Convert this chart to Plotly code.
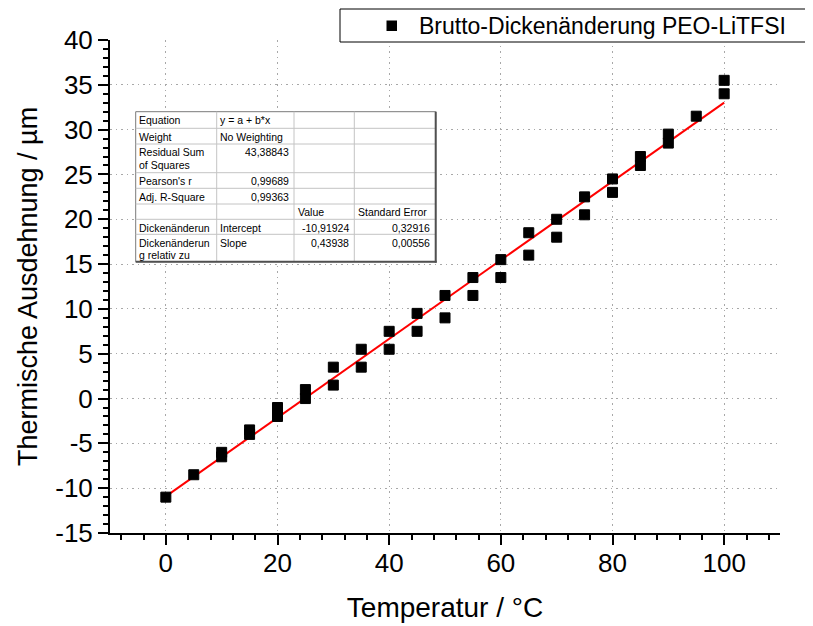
import plotly.graph_objects as go

# ---------------- data ----------------
temperature = [0, 5, 10, 10, 15, 15, 20, 20, 25, 25, 30, 30, 35, 35, 40, 40,
               45, 45, 50, 50, 55, 55, 60, 60, 65, 65, 70, 70, 75, 75, 80, 80,
               85, 85, 90, 90, 95, 100, 100]
expansion = [-11, -8.5, -6, -6.5, -3.5, -4, -1, -2, 1, 0, 3.5, 1.5, 5.5, 3.5,
             7.5, 5.5, 9.5, 7.5, 11.5, 9, 13.5, 11.5, 15.5, 13.5, 18.5, 16,
             20, 18, 22.5, 20.5, 24.5, 23, 27, 26, 29.5, 28.5, 31.5, 35.5, 34]

fit_intercept = -10.91924
fit_slope = 0.43938
fit_x = [0, 100]
fit_y = [fit_intercept + fit_slope * t for t in fit_x]

x_tickvals = [0, 20, 40, 60, 80, 100]
x_ticktext = ["0", "20", "40", "60", "80", "100"]
y_tickvals = [-15, -10, -5, 0, 5, 10, 15, 20, 25, 30, 35, 40]
y_ticktext = ["-15", "-10", "-5", "0", "5", "10", "15", "20", "25", "30", "35", "40"]

series_name = "Brutto-Dickenänderung PEO-LiTFSI"
x_title = "Temperatur / °C"
y_title = "Thermische Ausdehnung / µm"

table_rows = [
    ["Equation", "y = a + b*x", "", ""],
    ["Weight", "No Weighting", "", ""],
    ["Residual Sum|of Squares", "43,38843", "", ""],
    ["Pearson's r", "0,99689", "", ""],
    ["Adj. R-Square", "0,99363", "", ""],
    ["", "", "Value", "Standard Error"],
    ["Dickenänderun", "Intercept", "-10,91924", "0,32916"],
    ["Dickenänderun|g relativ zu", "Slope", "0,43938", "0,00556"],
]

# ---------------- layout geometry ----------------
# the page body has an 8px margin, so the figure is drawn 8px right/down
W, H = 813, 626
BODY = 8
PLOT_L, PLOT_R, PLOT_T, PLOT_B = 110, 780, 40, 533   # target page pixels
ML, MT = PLOT_L - BODY, PLOT_T - BODY
PW, PH = PLOT_R - PLOT_L, PLOT_B - PLOT_T
MR, MB = W - ML - PW, H - MT - PH
FONT = "Arial, Liberation Sans, sans-serif"


def px(xp):
    return (xp - PLOT_L) / PW


def py(yp):
    return 1 - (yp - PLOT_T) / PH


fig = go.Figure()

fig.add_trace(go.Scatter(
    x=fit_x, y=fit_y, mode="lines",
    line=dict(color="#ff0000", width=2), showlegend=False, hoverinfo="skip"))

fig.add_trace(go.Scatter(
    x=temperature, y=expansion, mode="markers", name=series_name,
    showlegend=False,
    marker=dict(symbol="square", size=10, color="black",
                line=dict(color="black", width=1))))

shapes = []
annotations = []

# ---------------- legend (drawn manually so it does not push the margins) ----
shapes.append(dict(type="rect", xref="paper", yref="paper",
                   x0=px(340), x1=px(840), y0=py(9), y1=py(42),
                   fillcolor="white", line=dict(color="black", width=1)))
shapes.append(dict(type="rect", xref="paper", yref="paper",
                   x0=px(386.5), x1=px(397), y0=py(20.5), y1=py(31),
                   fillcolor="black", line=dict(color="black", width=0)))
annotations.append(dict(xref="paper", yref="paper", x=px(418), y=py(26),
                        xanchor="left", yanchor="middle", showarrow=False,
                        text=series_name, borderpad=0,
                        font=dict(family=FONT, size=23, color="black")))

# ---------------- table ----------------
row_b = [111.7, 128.3, 144, 172.7, 188.3, 204, 219.3, 234.3, 261.7]
col_b = [135.7, 216.7, 294, 354.3, 435.7]

shapes.append(dict(type="rect", xref="paper", yref="paper",
                   x0=px(col_b[0]), x1=px(col_b[-1]), y0=py(row_b[0]), y1=py(row_b[-1]),
                   fillcolor="white", line=dict(color="#7a7a7a", width=1), layer="above"))
for yb in row_b[1:-1]:
    shapes.append(dict(type="line", xref="paper", yref="paper",
                       x0=px(col_b[0]), x1=px(col_b[-1]), y0=py(yb), y1=py(yb),
                       line=dict(color="#c4c4c4", width=1), layer="above"))
for xb in col_b[1:-1]:
    shapes.append(dict(type="line", xref="paper", yref="paper",
                       x0=px(xb), x1=px(xb), y0=py(row_b[0]), y1=py(row_b[-1]),
                       line=dict(color="#c4c4c4", width=1), layer="above"))
shapes.append(dict(type="line", xref="paper", yref="paper",
                   x0=px(col_b[-1]), x1=px(col_b[-1]), y0=py(row_b[0]), y1=py(row_b[-1] + 1),
                   line=dict(color="#505050", width=2), layer="above"))
shapes.append(dict(type="line", xref="paper", yref="paper",
                   x0=px(col_b[0]), x1=px(col_b[-1] + 1), y0=py(row_b[-1]), y1=py(row_b[-1]),
                   line=dict(color="#505050", width=2), layer="above"))


def is_number(s):
    try:
        float(s.replace(",", "."))
        return True
    except ValueError:
        return False


for ri, row in enumerate(table_rows):
    top = row_b[ri]
    for ci, cell in enumerate(row):
        if not cell:
            continue
        right = is_number(cell)
        for li, line in enumerate(cell.split("|")):
            annotations.append(dict(
                xref="paper", yref="paper",
                x=px(col_b[ci + 1] - 4.5) if right else px(col_b[ci] + 2.5),
                xanchor="right" if right else "left",
                y=py(top + 8.3 + 12.3 * li), yanchor="middle",
                text=line, showarrow=False,
                font=dict(family=FONT, size=10.5, color="black"),
                borderpad=0))

axis_common = dict(
    showline=True, linecolor="black", linewidth=2,
    ticks="outside", ticklen=10, tickwidth=2, tickcolor="black",
    tickfont=dict(family=FONT, size=26, color="black"),
    showgrid=True, gridcolor="#a8a8a8", gridwidth=1, griddash="1.5px,4px",
    zeroline=False, mirror=False, automargin=False,
)

fig.update_layout(
    width=W, height=H,
    margin=dict(l=ML, r=MR, t=MT, b=MB, autoexpand=False),
    paper_bgcolor="white", plot_bgcolor="white",
    font=dict(family=FONT, color="black"),
    shapes=shapes, annotations=annotations,
    showlegend=False,
    xaxis=dict(range=[-10, 110], tickmode="array",
               tickvals=x_tickvals, ticktext=x_ticktext,
               ticklabelstandoff=-4,
               minor=dict(tick0=0, dtick=4, ticks="outside", ticklen=5,
                          tickwidth=2, tickcolor="black", showgrid=False),
               title=dict(text=x_title, font=dict(family=FONT, size=28, color="black"),
                          standoff=20),
               **axis_common),
    yaxis=dict(range=[-15, 40], tickmode="array",
               tickvals=y_tickvals, ticktext=y_ticktext,
               minor=dict(tick0=0, dtick=1, ticks="outside", ticklen=5,
                          tickwidth=2, tickcolor="black", showgrid=False),
               title=dict(text=y_title, font=dict(family=FONT, size=27, color="black"),
                          standoff=10),
               **axis_common),
)

fig.write_html("out.html")
